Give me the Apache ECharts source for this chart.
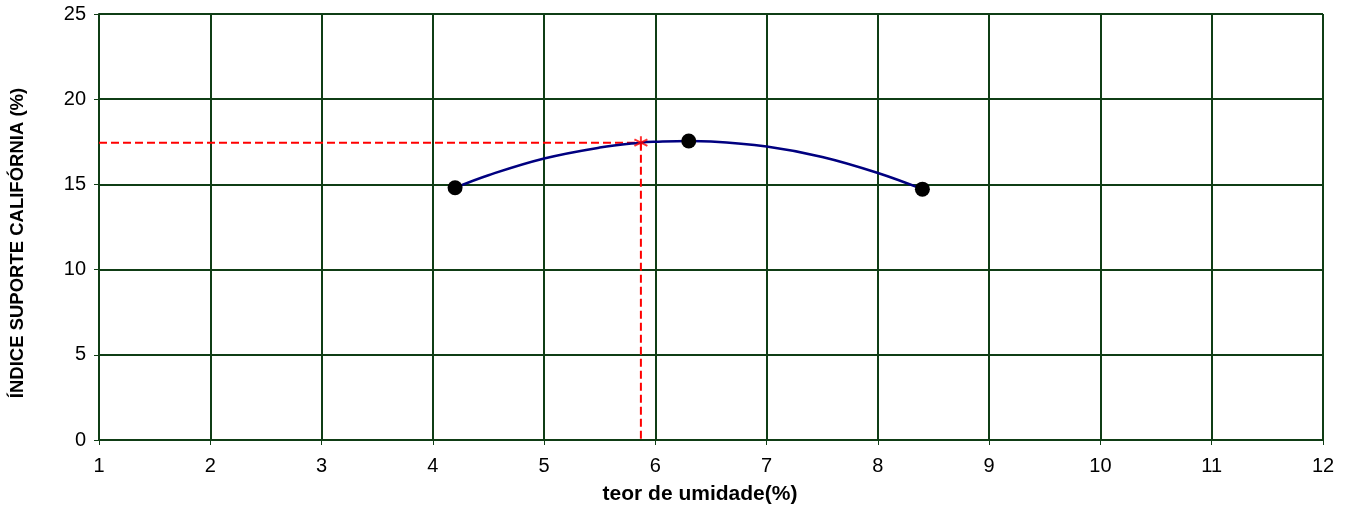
<!DOCTYPE html>
<html>
<head>
<meta charset="utf-8">
<script src="https://cdn.jsdelivr.net/npm/echarts@6/dist/echarts.min.js"></script>
<style>html,body{margin:0;padding:0;background:#fff;}#c{width:1351px;height:508px;}</style>
</head>
<body>
<div id="c"></div>
<script>
// Measured points (moisture %, CBR %)
const pointsX = [4.2, 6.3, 8.4];
const pointsY = [14.8, 17.55, 14.72];
// Fitted curve
const curveX = [4.2, 4.5, 5.0, 5.5, 5.87, 6.0, 6.3, 6.5, 7.0, 7.5, 8.0, 8.4];
const curveY = [14.8, 15.54, 16.52, 17.16, 17.45, 17.5, 17.55, 17.52, 17.22, 16.61, 15.67, 14.72];
// Optimum point
const optX = 5.87;
const optY = 17.45;
const xTicks = [1,2,3,4,5,6,7,8,9,10,11,12];
const yTicks = [0,5,10,15,20,25];

const GREEN = '#0f3d15';
const FONT = '"Liberation Sans", Arial, sans-serif';

const chart = echarts.init(document.getElementById('c'));
chart.setOption({
  animation: false,
  backgroundColor: '#fff',
  grid: { left: 99, right: 28, top: 14, bottom: 68 },
  xAxis: {
    type: 'value', min: xTicks[0], max: xTicks[xTicks.length-1], interval: 1,
    axisLine: { show: true, lineStyle: { color: GREEN, width: 2 } },
    axisTick: { show: true, length: 5, lineStyle: { color: GREEN, width: 1 } },
    splitLine: { show: true, lineStyle: { color: GREEN, width: 2 } },
    axisLabel: { color: '#000', fontSize: 20, fontFamily: FONT, margin: 16 }
  },
  yAxis: {
    type: 'value', min: yTicks[0], max: yTicks[yTicks.length-1], interval: 5,
    axisLine: { show: true, lineStyle: { color: GREEN, width: 2 } },
    axisTick: { show: true, length: 5, lineStyle: { color: GREEN, width: 1 } },
    splitLine: { show: true, lineStyle: { color: GREEN, width: 2 } },
    axisLabel: { color: '#000', fontSize: 20, fontFamily: FONT, margin: 13 }
  },
  graphic: [
    { type: 'text', x: 18, y: 243, rotation: Math.PI/2,
      style: { text: 'ÍNDICE SUPORTE CALIFÓRNIA (%)', font: 'bold 18.5px ' + FONT, fill: '#000', align: 'center', verticalAlign: 'middle' } },
    { type: 'text', x: 700, y: 494,
      style: { text: 'teor de umidade(%)', font: 'bold 21px ' + FONT, fill: '#000', align: 'center', verticalAlign: 'middle' } }
  ],
  series: [
    {
      type: 'line', name: 'h', data: [[xTicks[0], optY], [optX, optY]],
      symbol: 'none', lineStyle: { color: '#ff0000', width: 2, type: [8, 4] }, z: 3
    },
    {
      type: 'line', name: 'v', data: [[optX, optY], [optX, yTicks[0]]],
      symbol: 'none', lineStyle: { color: '#ff0000', width: 2, type: [8, 4] }, z: 3
    },
    {
      type: 'line', name: 'curve', data: curveX.map((x, i) => [x, curveY[i]]),
      smooth: 0.4, symbol: 'none', lineStyle: { color: '#000080', width: 2.5 }, z: 4
    },
    {
      type: 'scatter', name: 'pts', data: pointsX.map((x, i) => [x, pointsY[i]]),
      symbol: 'circle', symbolSize: 15, itemStyle: { color: '#000', opacity: 1 }, z: 5
    },
    {
      type: 'scatter', name: 'opt', data: [[optX, optY]],
      symbol: 'path://M0,-10L0,10M-8.66,-5L8.66,5M-8.66,5L8.66,-5', symbolSize: 13,
      itemStyle: { color: 'none', borderColor: '#ff0000', borderWidth: 2 }, z: 6
    }
  ]
});
</script>
</body>
</html>
